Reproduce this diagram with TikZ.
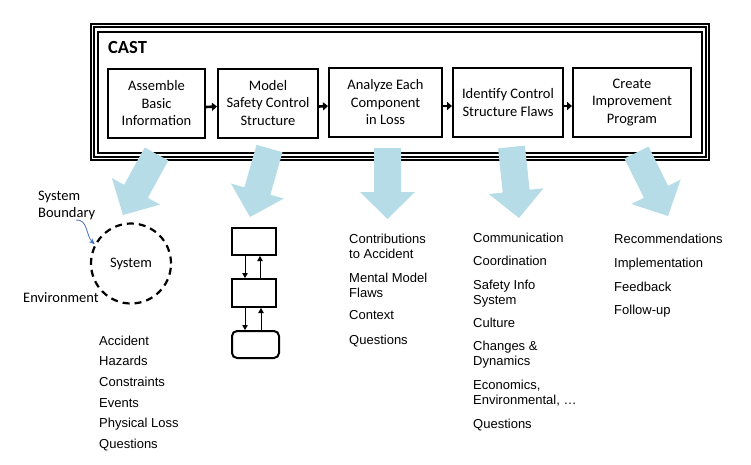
\documentclass[tikz,border=0pt]{standalone}
\usepackage{fontspec}
\setmainfont{Carlito}
\newfontfamily\arialf{Liberation Sans}
\usetikzlibrary{calc,arrows.meta}
\definecolor{arrowblue}{RGB}{182,221,231}
\definecolor{curveblue}{RGB}{68,114,196}
\tikzset{
  stepbox/.style={draw, line width=2pt, minimum height=69pt, align=center,
    font=\fontsize{14.5}{17.5}\selectfont, inner sep=0pt},
  listitem/.style={anchor=base west, align=left, inner sep=0pt,
    font=\arialf\fontsize{13}{15}\selectfont},
  flow/.style={line width=2.6pt, -{Triangle[length=5pt,width=8pt]}},
  csbox/.style={draw, line width=2pt, inner sep=0pt},
  csarrow/.style={line width=0.8pt, -{Triangle[length=5pt,width=5.5pt]}},
  lbl/.style={inner sep=0pt, font=\fontsize{14.5}{17.5}\selectfont, align=left},
}
\newcommand\fatarrow[3]{%
  \coordinate (#1s) at #2;
  \coordinate (#1t) at #3;
  \coordinate (#1h) at ($(#1t)!27pt!(#1s)$);
  \fill[arrowblue] ($(#1s)!13.5pt!90:(#1t)$) -- ($(#1h)!13.5pt!90:(#1t)$)
    -- ($(#1h)!27.5pt!90:(#1t)$) -- (#1t) -- ($(#1h)!27.5pt!-90:(#1t)$)
    -- ($(#1h)!13.5pt!-90:(#1t)$) -- ($(#1s)!13.5pt!-90:(#1t)$) -- cycle;
}
\begin{document}
\begin{tikzpicture}[x=1pt,y=-1pt]
\useasboundingbox (0,0) rectangle (751,464);
\fill[white] (0,0) rectangle (751,464);

% frame
\draw[line width=1.5pt] (91,24) rectangle (709,160);
\draw[line width=1.5pt] (94,27) rectangle (706,157);
\draw[line width=2pt] (97.5,31.5) rectangle (702,153);
\node[anchor=base west, inner sep=0pt, font=\bfseries\fontsize{18.5}{20}\selectfont] (cast) at (108,53) {CAST};

% step boxes
\node[stepbox, minimum width=97pt] (b1) at (156.5,103.5) {Assemble\\Basic\\Information};
\node[stepbox, minimum width=100pt] (b2) at (268,103) {Model\\Safety Control\\Structure};
\node[stepbox, minimum width=113pt] (b3) at (385.5,102.5) {Analyze Each\\Component\\in Loss};
\node[stepbox, minimum width=110pt] (b4) at (508,102.5) {Identify Control\\Structure Flaws};
\node[stepbox, minimum width=118pt] (b5) at (632,102.5) {Create\\Improvement\\Program};

\draw[flow] ([yshift=-3.5pt]b1.east) -- ([yshift=-3.5pt]b2.west);
\draw[flow] ([yshift=-3.5pt]b2.east) -- ([yshift=-3.5pt]b3.west);
\draw[flow] ([yshift=-3.5pt]b3.east) -- ([yshift=-3.5pt]b4.west);
\draw[flow] ([yshift=-3.5pt]b4.east) -- ([yshift=-3.5pt]b5.west);

% blue block arrows
\fatarrow{a}{(156.5,154)}{(123,215)}
\fatarrow{b}{(269.5,148.5)}{(250,217)}
\fatarrow{c}{(387.5,148)}{(387.5,219)}
\fatarrow{d}{(511.5,147)}{(519,218)}
\fatarrow{e}{(636.5,152.5)}{(668,216)}

% system circle
\node[circle, draw, dashed, dash pattern=on 7pt off 5pt, line width=2.2pt,
  minimum size=80pt, inner sep=0pt, font=\fontsize{14.5}{17.5}\selectfont] (sys) at (131,263.5) {System};
\node[lbl, anchor=base west] (bnd) at (38,217.5) {System\\Boundary};
\node[lbl, anchor=base west] (env) at (23,302) {Environment};
\coordinate (bstart) at (76,220);
\draw[curveblue, line width=0.8pt, -{Stealth[length=6pt,width=5pt]}]
  (bstart) .. controls (88,219) and (86,236) .. (sys.152);

% control structure
\node[csbox, minimum width=44pt, minimum height=27pt] (ca) at (254,241.5) {};
\node[csbox, minimum width=44pt, minimum height=28pt] (cb) at (254,293) {};
\node[csbox, rounded corners=5pt, minimum width=47pt, minimum height=27pt] (cc) at (255.5,344.5) {};
\draw[csarrow] ([xshift=-9pt]ca.south) -- ([xshift=-9pt]ca.south |- cb.north);
\draw[csarrow] ([xshift=6pt]ca.south |- cb.north) -- ([xshift=6pt]ca.south);
\draw[csarrow] ([xshift=-9pt]cb.south) -- ([xshift=-9pt]cb.south |- cc.north);
\draw[csarrow] ([xshift=7pt]cb.south |- cc.north) -- ([xshift=7pt]cb.south);

% lists column 1
\node[listitem] (l1a) at (99,345) {Accident};
\node[listitem] (l1b) at (99,365) {Hazards};
\node[listitem] (l1c) at (99,386) {Constraints};
\node[listitem] (l1d) at (99,407) {Events};
\node[listitem] (l1e) at (99,427) {Physical Loss};
\node[listitem] (l1f) at (99,448) {Questions};

% column 2 (base = last line)
\node[listitem] (l2a) at (349,258) {Contributions\\to Accident};
\node[listitem] (l2b) at (349,297) {Mental Model\\Flaws};
\node[listitem] (l2c) at (349,319) {Context};
\node[listitem] (l2d) at (349,344) {Questions};

% column 3
\node[listitem] (l3a) at (473,242) {Communication};
\node[listitem] (l3b) at (473,265) {Coordination};
\node[listitem] (l3c) at (473,304) {Safety Info\\System};
\node[listitem] (l3d) at (473,327) {Culture};
\node[listitem] (l3e) at (473,365) {Changes \&\\Dynamics};
\node[listitem] (l3f) at (473,404) {Economics,\\Environmental, …};
\node[listitem] (l3g) at (473,428) {Questions};

% column 4
\node[listitem] (l4a) at (614,243) {Recommendations};
\node[listitem] (l4b) at (614,267) {Implementation};
\node[listitem] (l4c) at (614,291) {Feedback};
\node[listitem] (l4d) at (614,314) {Follow-up};
\end{tikzpicture}
\end{document}
